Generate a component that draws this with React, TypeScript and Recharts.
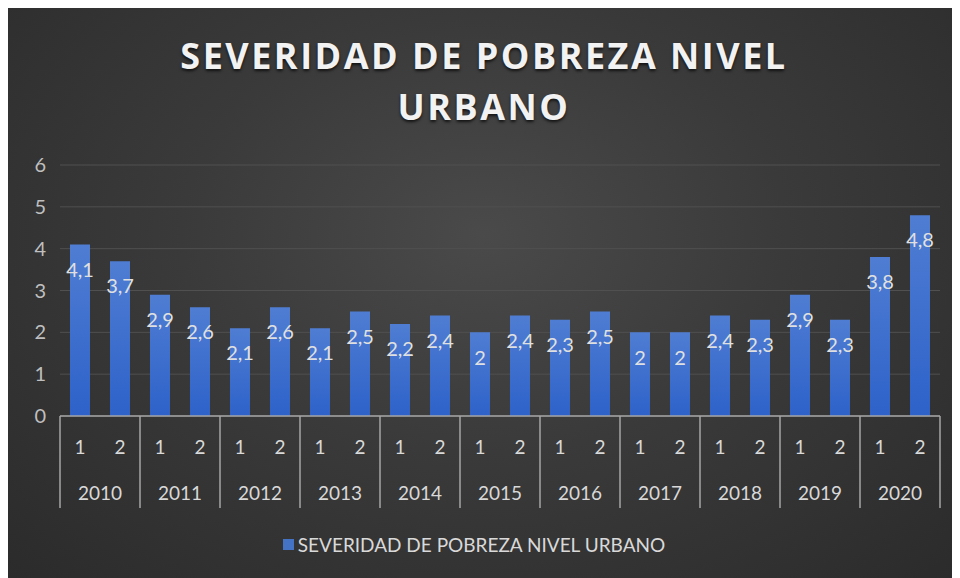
import { BarChart, Bar, XAxis, YAxis, CartesianGrid, Legend, LabelList } from "recharts";

// datos (semestres 1 y 2 por año)
const anios = ["2010", "2011", "2012", "2013", "2014", "2015", "2016", "2017", "2018", "2019", "2020"];
const semestres = ["1", "2"];
const severidad = [4.1, 3.7, 2.9, 2.6, 2.1, 2.6, 2.1, 2.5, 2.2, 2.4, 2.0, 2.4, 2.3, 2.5, 2.0, 2.0, 2.4, 2.3, 2.9, 2.3, 3.8, 4.8];
const ticksY = [0, 1, 2, 3, 4, 5, 6];

const datos = severidad.map((v, i) => ({
  anio: anios[Math.floor(i / 2)],
  sem: semestres[i % 2],
  valor: v,
}));

const W = 952;
const H = 572;
const M = { top: 159, right: 20, left: 0, bottom: 46 };
const Y_WIDTH = 52;
const SLOT = (W - M.left - M.right - Y_WIDTH) / datos.length;
const FONT = "Lato, 'Open Sans', sans-serif";

function TickDoble(props: any) {
  const { x, y, payload } = props;
  const i = payload.index;
  const d = datos[i];
  if (!d) return null;
  return (
    <g>
      <text x={x} y={y + 38} textAnchor="middle" fill="#d9d9d9" fontSize={19} fontFamily={FONT}>
        {d.sem}
      </text>
      {d.sem === "1" && (
        <>
          <line x1={x - SLOT / 2} x2={x - SLOT / 2} y1={y} y2={y + 92} stroke="#a6a6a6" strokeWidth={1.5} />
          <text x={x + SLOT / 2} y={y + 84} textAnchor="middle" fill="#d9d9d9" fontSize={19} fontFamily={FONT}>
            {d.anio}
          </text>
        </>
      )}
      {i === datos.length - 1 && (
        <line x1={x + SLOT / 2} x2={x + SLOT / 2} y1={y} y2={y + 92} stroke="#a6a6a6" strokeWidth={1.5} />
      )}
    </g>
  );
}

function Leyenda() {
  return (
    <div style={{ display: "flex", justifyContent: "center", alignItems: "center", fontFamily: FONT, fontSize: 19, color: "#d9d9d9", height: 24 }}>
      <span style={{ width: 11, height: 11, background: "#4472c4", display: "inline-block", marginRight: 4 }} />
      SEVERIDAD DE POBREZA NIVEL URBANO
    </div>
  );
}

export default function App() {
  return (
    <div
      style={{
        position: "relative",
        width: W,
        height: H,
        marginTop: -2,
        background: "radial-gradient(ellipse at 50% 40%, #4a4a4a 0%, #3a3a3a 45%, #2b2b2b 100%)",
      }}
    >
      <div
        style={{
          position: "absolute",
          top: 24,
          left: 0,
          width: W,
          textAlign: "center",
          fontFamily: "'Open Sans', sans-serif",
          fontWeight: 700,
          fontSize: 36,
          lineHeight: "51px",
          letterSpacing: 2.5,
          color: "#f2f2f2",
          textShadow: "0 2px 3px rgba(0,0,0,0.7)",
        }}
      >
        SEVERIDAD DE POBREZA NIVEL
        <br />
        URBANO
      </div>
      <BarChart width={W} height={H} data={datos} margin={M} barSize={20}>
        <defs>
          <linearGradient id="azul" x1="0" y1="0" x2="0" y2="1">
            <stop offset="0%" stopColor="#4f7dd3" />
            <stop offset="100%" stopColor="#2e62c9" />
          </linearGradient>
        </defs>
        <CartesianGrid vertical={false} stroke="#505050" />
        <YAxis
          width={Y_WIDTH}
          domain={[0, 6]}
          ticks={ticksY}
          axisLine={false}
          tickLine={false}
          tickSize={0}
          tickMargin={14}
          tick={{ fill: "#bfbfbf", fontSize: 20, fontFamily: FONT }}
        />
        <XAxis
          dataKey="sem"
          interval={0}
          height={92}
          tickLine={false}
          tickSize={0}
          tickMargin={0}
          axisLine={{ stroke: "#a6a6a6", strokeWidth: 1.5 }}
          tick={<TickDoble />}
        />
        <Legend verticalAlign="bottom" content={<Leyenda />} wrapperStyle={{ bottom: 22 }} />
        <Bar dataKey="valor" name="SEVERIDAD DE POBREZA NIVEL URBANO" fill="url(#azul)" isAnimationActive={false}>
          <LabelList
            dataKey="valor"
            position="insideTop"
            offset={18}
            formatter={(v: any) => String(v).replace(".", ",")}
            style={{ fill: "#e0e0e0", fontSize: 20, fontFamily: FONT }}
          />
        </Bar>
      </BarChart>
    </div>
  );
}
